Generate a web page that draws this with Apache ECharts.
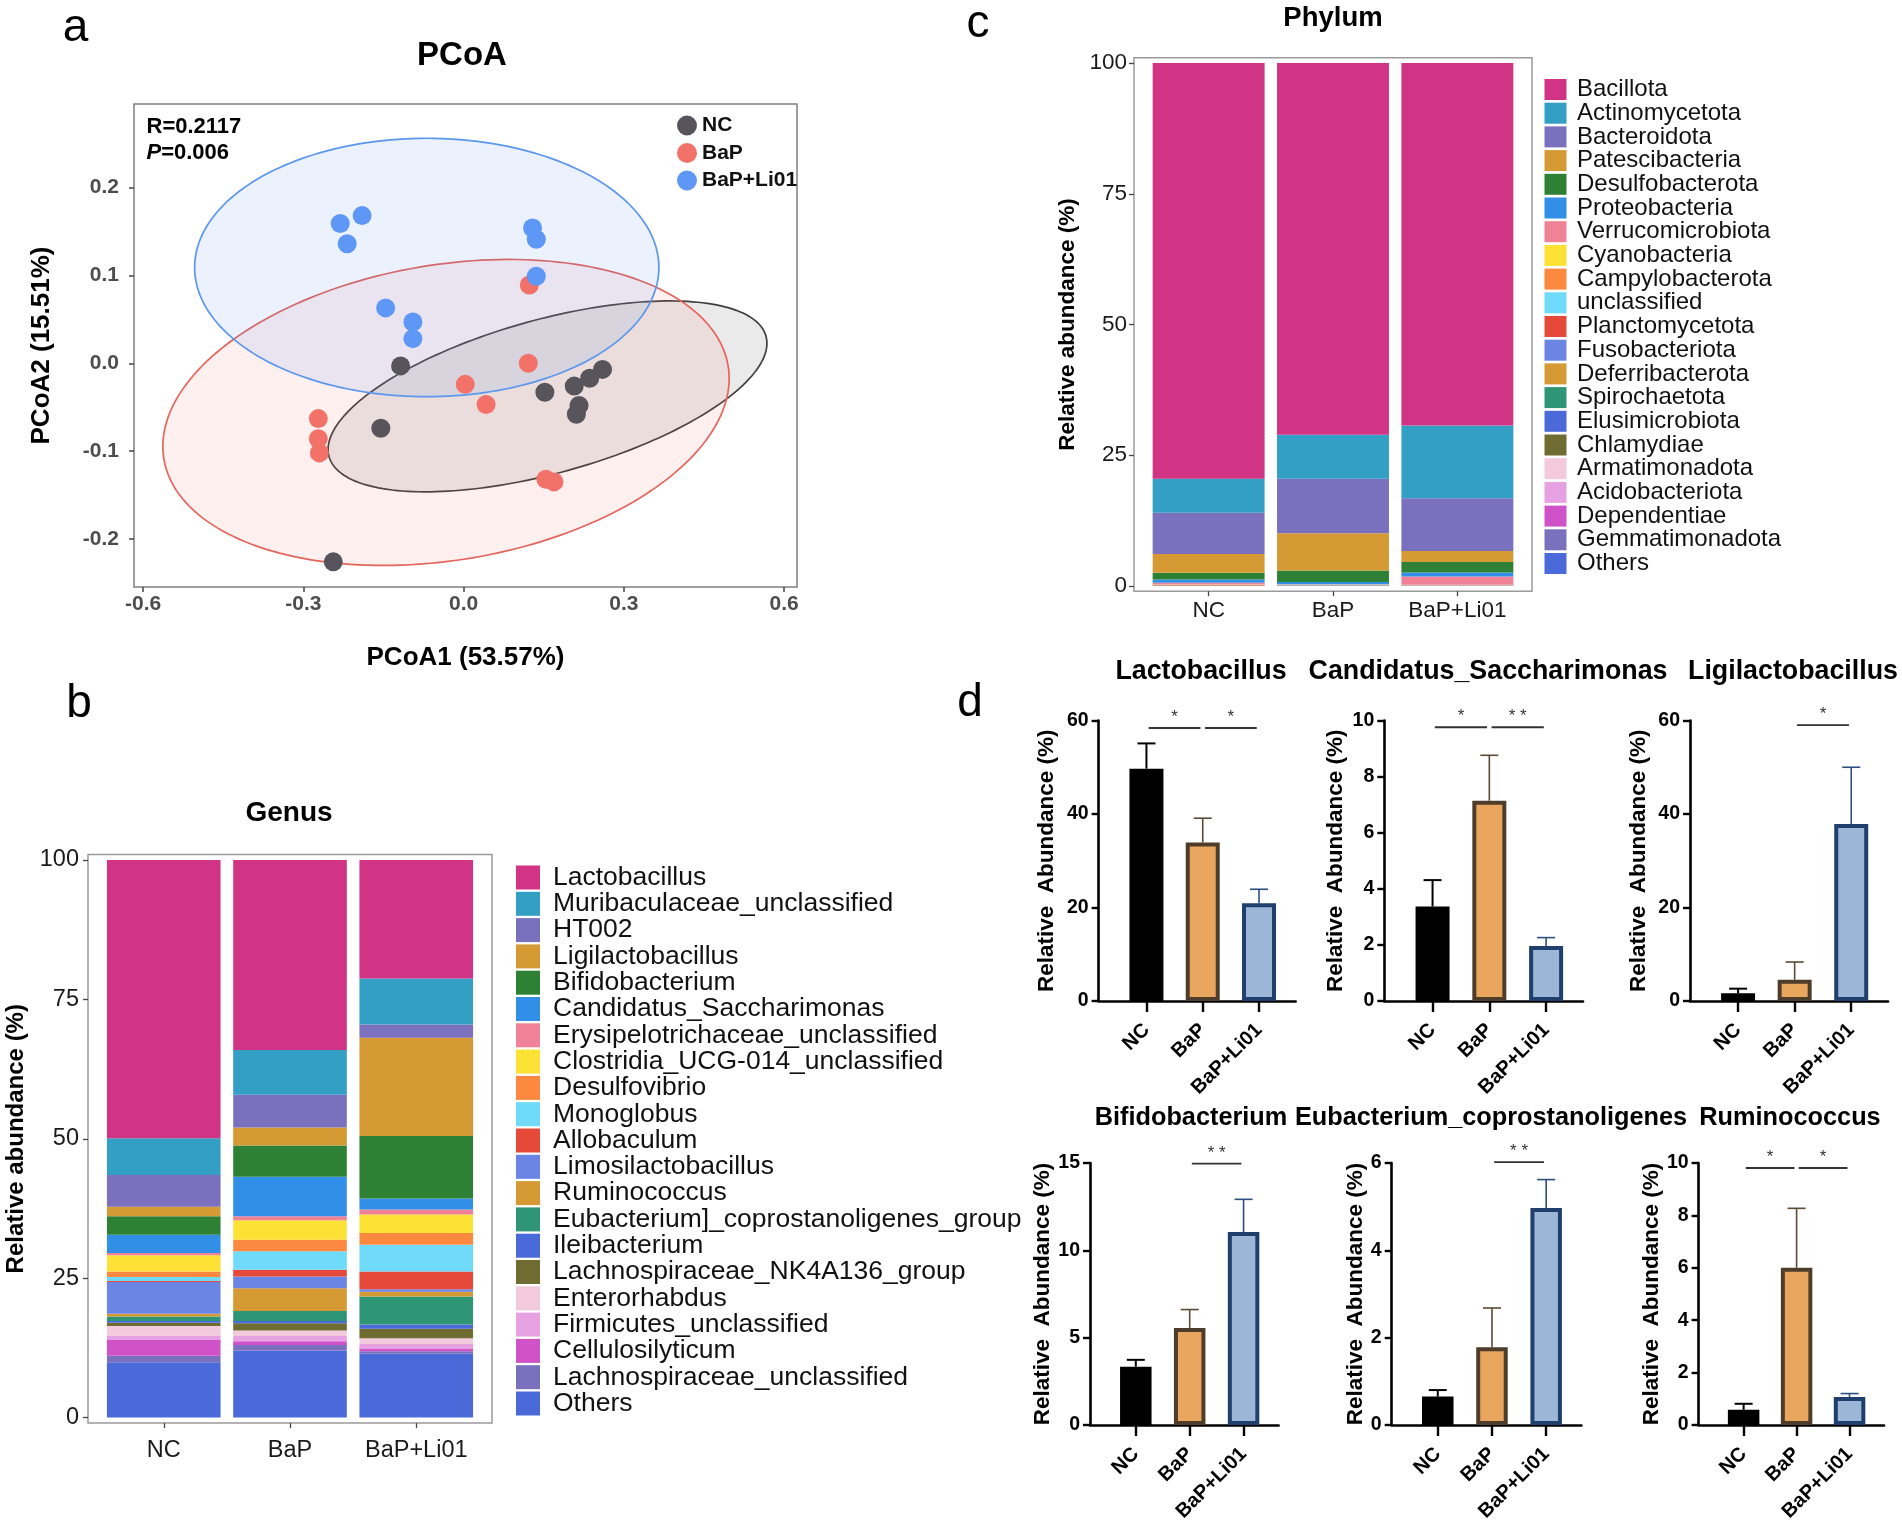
<!DOCTYPE html>
<html><head><meta charset="utf-8">
<script src="https://cdn.jsdelivr.net/npm/echarts@6/dist/echarts.min.js"></script>
<style>html,body{margin:0;padding:0;background:#fff}#c{width:1902px;height:1527px}</style>
</head><body><div id="c"></div>
<script>
// ---------------- DATA ----------------
const groups = ['NC', 'BaP', 'BaP+Li01'];

// Panel a: PCoA sample scores [PCoA1, PCoA2]
const pcoaNC = [[-0.118,-0.003],[-0.155,-0.074],[0.152,-0.033],[0.207,-0.026],[0.236,-0.017],[0.260,-0.007],[0.216,-0.048],[0.211,-0.058],[-0.244,-0.226]];
const pcoaBaP = [[0.123,0.089],[0.121,0.000],[0.003,-0.024],[0.042,-0.047],[-0.272,-0.063],[-0.272,-0.086],[-0.270,-0.102],[0.154,-0.132],[0.169,-0.135]];
const pcoaLi01 = [[-0.231,0.159],[-0.190,0.168],[-0.218,0.136],[0.129,0.154],[0.136,0.141],[0.136,0.099],[-0.146,0.063],[-0.095,0.047],[-0.095,0.028]];
// confidence ellipses: [centerX, centerY, spreadX, spreadY, correlation]
const ellipseNC = [0.157, -0.0377, 0.4107, 0.1086, 0.556];
const ellipseBaP = [-0.033, -0.056, 0.530, 0.1741, 0.222];
const ellipseLi01 = [-0.069, 0.109, 0.4345, 0.147, 0];
const pcoaXTicks = [-0.6, -0.3, 0, 0.3, 0.6];
const pcoaYTicks = [-0.2, -0.1, 0, 0.1, 0.2];
const pcoaStats = ['R=0.2117', 'P=0.006'];

// Panel c: phylum relative abundance (%)
const phylumNames = ['Bacillota','Actinomycetota','Bacteroidota','Patescibacteria','Desulfobacterota','Proteobacteria','Verrucomicrobiota','Cyanobacteria','Campylobacterota','unclassified','Planctomycetota','Fusobacteriota','Deferribacterota','Spirochaetota','Elusimicrobiota','Chlamydiae','Armatimonadota','Acidobacteriota','Dependentiae','Gemmatimonadota','Others'];
const phylumNC   = [79.48, 6.5, 7.9, 3.6, 1.3, 0.6, 0.35, 0.04, 0.03, 0.03, 0.02, 0.02, 0.02, 0.02, 0.02, 0.01, 0.02, 0.01, 0.01, 0.01, 0.01];
const phylumBaP  = [71.1, 8.4, 10.45, 7.1, 2.2, 0.45, 0.05, 0.03, 0.03, 0.03, 0.02, 0.02, 0.02, 0.02, 0.02, 0.01, 0.02, 0.01, 0.01, 0.01, 0.02];
const phylumLi01 = [69.3, 13.9, 10.1, 2.1, 2.0, 0.8, 1.5, 0.03, 0.02, 0.03, 0.02, 0.02, 0.02, 0.02, 0.02, 0.01, 0.05, 0.01, 0.01, 0.01, 0.02];
const abundTicks = [0, 25, 50, 75, 100];

// Panel b: genus relative abundance (%)
const genusNames = ['Lactobacillus','Muribaculaceae_unclassified','HT002','Ligilactobacillus','Bifidobacterium','Candidatus_Saccharimonas','Erysipelotrichaceae_unclassified','Clostridia_UCG-014_unclassified','Desulfovibrio','Monoglobus','Allobaculum','Limosilactobacillus','Ruminococcus','Eubacterium]_coprostanoligenes_group','Ileibacterium','Lachnospiraceae_NK4A136_group','Enterorhabdus','Firmicutes_unclassified','Cellulosilyticum','Lachnospiraceae_unclassified','Others'];
const genusNC   = [49.9, 6.6, 5.7, 1.7, 3.3, 3.3, 0.4, 2.9, 1.0, 0.7, 0.2, 5.7, 0.5, 0.8, 0.3, 0.6, 1.7, 0.7, 2.9, 1.2, 9.9];
const genusBaP  = [34.1, 8.0, 5.9, 3.2, 5.6, 7.1, 0.7, 3.5, 2.1, 3.3, 1.2, 2.1, 4.1, 1.8, 0.4, 1.3, 1.0, 0.9, 0.7, 1.0, 12.0];
const genusLi01 = [21.25, 8.25, 2.4, 17.6, 11.2, 2.0, 0.9, 3.3, 2.1, 4.8, 3.2, 0.45, 0.85, 5.0, 0.8, 1.7, 1.0, 0.9, 0.4, 0.45, 11.45];

// Panel d: mean and SEM (%) per group
const dTitles = ['Lactobacillus','Candidatus_Saccharimonas','Ligilactobacillus','Bifidobacterium','Eubacterium_coprostanoligenes','Ruminococcus'];
const dMeans  = [[49.7, 33.9, 20.9],[3.37, 7.14, 1.96],[1.64, 4.56, 37.85],[3.34, 5.56, 11.05],[0.65, 1.78, 4.97],[0.58, 6.0, 1.07]];
const dErrors = [[5.4, 5.2, 3.0],[0.94, 1.62, 0.30],[1.0, 3.78, 12.15],[0.39, 1.05, 1.87],[0.15, 0.90, 0.65],[0.23, 2.27, 0.13]];
const dAxisMax  = [60, 10, 60, 15, 6, 10];
const dAxisStep = [20, 2, 20, 5, 2, 2];
// significance: [from group, to group, label, bracket height]
const dSig = [
  [[0, 1, '*', 58.4], [1, 2, '*', 58.4]],
  [[0, 1, '*', 9.76], [1, 2, '**', 9.76]],
  [[1, 2, '*', 59.0]],
  [[1, 2, '**', 14.96]],
  [[1, 2, '**', 6.02]],
  [[0, 1, '*', 9.81], [1, 2, '*', 9.81]]
];

// ---------------- STYLE ----------------
const FONT = '"Liberation Sans", Arial, Helvetica, sans-serif';
const taxaColors = ['#D13385','#339FC4','#7B70BE','#D69A35','#2E8134','#318FE8','#F08297','#FDE134','#FD8940','#6FDAF9','#E5493A','#6A85E4','#D69A35','#2E9674','#4B6ADA','#6F6C32','#F2CADB','#E6A1E2','#D052C8','#7B70BE','#4B6ADA'];
const barFill = ['#000000', '#E9A65E', '#9CB6D8'];
const barBorder = ['#000000', '#4E3D2A', '#1F3F6D'];
const errColor = ['#000000', '#5C4A36', '#2B4F7E'];

const grids = [], xAxes = [], yAxes = [], series = [], legends = [], graphics = [];

// ---------------- Panel a ----------------
grids.push({left: 134, top: 104, width: 663, height: 483, show: true, borderColor: '#7F7F7F', borderWidth: 1.5, backgroundColor: 'transparent'});
const pcoaTickLabel = {fontFamily: FONT, fontSize: 21, fontWeight: 'bold', color: '#4D4D4D'};
xAxes.push({type: 'value', gridIndex: 0, min: -0.617, max: 0.624,
  name: 'PCoA1 (53.57%)', nameLocation: 'middle', nameGap: 58,
  nameTextStyle: {fontFamily: FONT, fontSize: 26, fontWeight: 'bold', color: '#000'},
  axisLine: {show: false, onZero: false}, splitLine: {show: false},
  axisTick: {show: true, customValues: pcoaXTicks, length: 5, lineStyle: {color: '#444', width: 1.5}},
  axisLabel: Object.assign({customValues: pcoaXTicks, formatter: v => Number(v).toFixed(1), margin: 7}, pcoaTickLabel)});
yAxes.push({type: 'value', gridIndex: 0, min: -0.2546, max: 0.295,
  name: 'PCoA2 (15.51%)', nameLocation: 'middle', nameGap: 79,
  nameTextStyle: {fontFamily: FONT, fontSize: 26, fontWeight: 'bold', color: '#000'},
  axisLine: {show: false, onZero: false}, splitLine: {show: false},
  axisTick: {show: true, customValues: pcoaYTicks, length: 5, lineStyle: {color: '#444', width: 1.5}},
  axisLabel: Object.assign({customValues: pcoaYTicks, formatter: v => Number(v).toFixed(1), margin: 15}, pcoaTickLabel)});

function ellipseSeries(params, stroke, fill, name) {
  return {
    type: 'custom', name: name, xAxisIndex: 0, yAxisIndex: 0, z: 1, silent: true,
    data: [params],
    renderItem: (p, api) => {
      const cx = api.value(0), cy = api.value(1), sx = api.value(2), sy = api.value(3), r = api.value(4);
      const pts = [];
      const q = Math.sqrt(1 - r * r);
      for (let k = 0; k <= 200; k++) {
        const t = 2 * Math.PI * k / 200;
        pts.push(api.coord([cx + sx * Math.cos(t), cy + sy * (r * Math.cos(t) + q * Math.sin(t))]));
      }
      return {type: 'polygon', shape: {points: pts}, style: {fill: fill, stroke: stroke, lineWidth: 1.7}};
    }
  };
}
series.push(ellipseSeries(ellipseNC, '#3F3F3F', 'rgba(90,90,90,0.13)', 'ellipse NC'));
series.push(ellipseSeries(ellipseBaP, '#E5645C', 'rgba(240,110,100,0.10)', 'ellipse BaP'));
series.push(ellipseSeries(ellipseLi01, '#5B97EC', 'rgba(90,150,240,0.12)', 'ellipse BaP+Li01'));
const pointColors = ['#58545C', '#F2726A', '#5E97F6'];
[pcoaNC, pcoaBaP, pcoaLi01].forEach((d, i) => {
  series.push({type: 'scatter', name: groups[i], xAxisIndex: 0, yAxisIndex: 0, data: d, symbolSize: 19, z: 5,
    itemStyle: {color: pointColors[i], opacity: 1}});
});
legends.push({data: groups, orient: 'vertical', left: 677, top: 115, padding: 0, icon: 'circle', itemWidth: 20, itemHeight: 20, itemGap: 6.5,
  selectedMode: false, textStyle: {fontFamily: FONT, fontSize: 21, fontWeight: 'bold', color: '#111'}});

// ---------------- Stacked panels (b, c) ----------------
// box: plot frame; bars sit on a category grid inset by 0.1 band on each side (0.6 band expansion)
function stackedPanel(box, names, g0, g1, g2, labelMargin, yMargin, nameGap, nameSize, tickSize) {
  const band = box.width / 3.2, inset = 0.1 * band;
  const fi = grids.length;
  grids.push({left: box.left, top: box.top, width: box.width, height: box.height, show: true, borderColor: '#9A9A9A', borderWidth: 1.5, backgroundColor: 'transparent'});
  xAxes.push({type: 'value', gridIndex: fi, show: false});
  yAxes.push({type: 'value', gridIndex: fi, show: false});
  const gi = grids.length;
  grids.push({left: box.left + inset, top: box.top, width: box.width - 2 * inset, height: box.height});
  xAxes.push({type: 'category', gridIndex: gi, data: groups, boundaryGap: true,
    axisLine: {show: false, onZero: false}, splitLine: {show: false},
    axisTick: {show: true, alignWithLabel: true, interval: 0, length: 5, lineStyle: {color: '#444', width: 1.3}},
    axisLabel: {interval: 0, fontFamily: FONT, fontSize: tickSize, color: '#1a1a1a', margin: labelMargin}});
  yAxes.push({type: 'value', gridIndex: gi, min: -1, max: 101, offset: inset,
    name: 'Relative abundance (%)', nameLocation: 'middle', nameGap: nameGap,
    nameTextStyle: {fontFamily: FONT, fontSize: nameSize, fontWeight: 'bold', color: '#000'},
    axisLine: {show: false, onZero: false}, splitLine: {show: false},
    axisTick: {show: true, customValues: abundTicks, length: 5, lineStyle: {color: '#444', width: 1.3}},
    axisLabel: {customValues: abundTicks, fontFamily: FONT, fontSize: tickSize, color: '#1a1a1a', margin: yMargin}});
  for (let k = names.length - 1; k >= 0; k--) {
    series.push({type: 'bar', name: names[k], xAxisIndex: gi, yAxisIndex: gi, stack: 'stack' + gi, barWidth: '90%',
      data: [g0[k], g1[k], g2[k]], itemStyle: {color: taxaColors[k]}});
  }
}
// Panel c (Phylum)
stackedPanel({left: 1134, top: 57.8, width: 398, height: 533.4}, phylumNames, phylumNC, phylumBaP, phylumLi01, 8, 7, 55, 22.5, 22.5);
legends.push({data: phylumNames, orient: 'vertical', left: 1544.5, top: 77.5, padding: 0, icon: 'rect', itemWidth: 22, itemHeight: 21, itemGap: -0.3,
  selectedMode: false, textStyle: {fontFamily: FONT, fontSize: 24, color: '#111', padding: [0, 0, 0, 5.5]}});
// Panel b (Genus)
stackedPanel({left: 88, top: 854.4, width: 404, height: 568.7}, genusNames, genusNC, genusBaP, genusLi01, 15, 9, 59.5, 24, 23.5);
legends.push({data: genusNames, orient: 'vertical', left: 516, top: 864, padding: 0, icon: 'rect', itemWidth: 24, itemHeight: 24, itemGap: -0.7,
  selectedMode: false, textStyle: {fontFamily: FONT, fontSize: 26.5, color: '#111', padding: [0, 0, 0, 8]}});

// ---------------- Panel d ----------------
const dGrid = [
  {left: 1098.6, top: 720.5, width: 197, height: 280.5, nameGap: 40, barW: 34},
  {left: 1384.3, top: 720.5, width: 198.7, height: 280.5, nameGap: 37, barW: 34},
  {left: 1690, top: 720.5, width: 198, height: 280.5, nameGap: 40, barW: 34},
  {left: 1090, top: 1163, width: 188.6, height: 262, nameGap: 31.5, barW: 31.5},
  {left: 1391.7, top: 1163, width: 189.7, height: 262, nameGap: 20.5, barW: 31.5},
  {left: 1698.6, top: 1163, width: 185.4, height: 262, nameGap: 34, barW: 31.5}
];
dTitles.forEach((t, k) => {
  const gi = grids.length, L = dGrid[k];
  grids.push({left: L.left, top: L.top, width: L.width, height: L.height});
  xAxes.push({type: 'value', gridIndex: gi, min: -0.85, max: 2.65,
    axisLine: {show: true, onZero: false, lineStyle: {color: '#000', width: 2.6}}, splitLine: {show: false},
    axisTick: {show: true, customValues: [0, 1, 2], length: 11, lineStyle: {color: '#000', width: 2.4}},
    axisLabel: {customValues: [0, 1, 2], formatter: v => groups[Math.round(v)], rotate: 45, margin: 26,
      fontFamily: FONT, fontSize: 20, fontWeight: 'bold', color: '#000'}});
  yAxes.push({type: 'value', gridIndex: gi, min: 0, max: dAxisMax[k], interval: dAxisStep[k],
    name: 'Relative  Abundance (%)', nameLocation: 'middle', nameGap: L.nameGap,
    nameTextStyle: {fontFamily: FONT, fontSize: 22.5, fontWeight: 'bold', color: '#000'},
    axisLine: {show: true, onZero: false, lineStyle: {color: '#000', width: 2.6}}, splitLine: {show: false},
    axisTick: {show: true, length: 7, lineStyle: {color: '#000', width: 2.4}},
    axisLabel: {fontFamily: FONT, fontSize: 19.5, fontWeight: 'bold', color: '#000', margin: 10}});
  // error bars (upper)
  series.push({type: 'custom', name: 'err' + k, xAxisIndex: gi, yAxisIndex: gi, z: 1, silent: true,
    data: dMeans[k].map((m, i) => [i, m, m + dErrors[k][i]]),
    renderItem: (p, api) => {
      const i = p.dataIndex;
      const lo = api.coord([api.value(0), api.value(1)]);
      const hi = api.coord([api.value(0), api.value(2)]);
      const c = errColor[i], w = i === 0 ? 2 : 1.6;
      return {type: 'group', children: [
        {type: 'line', shape: {x1: lo[0], y1: lo[1], x2: hi[0], y2: hi[1]}, style: {stroke: c, lineWidth: w}},
        {type: 'line', shape: {x1: hi[0] - 9, y1: hi[1], x2: hi[0] + 9, y2: hi[1]}, style: {stroke: c, lineWidth: w}}
      ]};
    }});
  // bars
  series.push({type: 'bar', name: 'bar' + k, xAxisIndex: gi, yAxisIndex: gi, barWidth: L.barW, z: 2,
    data: dMeans[k].map((m, i) => ({value: [i, m], itemStyle: {color: barFill[i], borderColor: barBorder[i], borderWidth: 4}}))});
  // significance brackets
  series.push({type: 'custom', name: 'sig' + k, xAxisIndex: gi, yAxisIndex: gi, z: 3, silent: true, clip: false,
    data: dSig[k].map(s => [s[0], s[1], s[3]]),
    renderItem: (p, api) => {
      const a = api.coord([api.value(0) + 0.04, api.value(2)]);
      const b = api.coord([api.value(1) - 0.04, api.value(2)]);
      const lab = dSig[k][p.dataIndex][2].split('').join(' ');
      return {type: 'group', children: [
        {type: 'line', shape: {x1: a[0], y1: a[1], x2: b[0], y2: b[1]}, style: {stroke: '#333', lineWidth: 1.8}},
        {type: 'text', x: (a[0] + b[0]) / 2, y: a[1] - 2, style: {text: lab, fill: '#333', fontSize: 17, fontFamily: FONT, align: 'center', verticalAlign: 'bottom'}}
      ]};
    }});
});

// ---------------- Titles & labels ----------------
function txt(x, y, text, size, weight, align, extra) {
  graphics.push({type: 'text', x: x, y: y, silent: true,
    style: Object.assign({text: text, fontSize: size, fontWeight: weight || 'normal', fontFamily: FONT, fill: '#000', align: align || 'center', verticalAlign: 'middle'}, extra || {})});
}
txt(75.5, 28.5, 'a', 46);
txt(79, 704, 'b', 46);
txt(978, 24.5, 'c', 46);
txt(970, 703, 'd', 46);
txt(462, 56, 'PCoA', 33, 'bold');
txt(1333, 18, 'Phylum', 27.5, 'bold');
txt(289, 813, 'Genus', 28, 'bold');
txt(146.5, 127, pcoaStats[0], 22, 'bold', 'left');
txt(146.5, 153, '{i|P}' + pcoaStats[1].slice(1), 22, 'bold', 'left', {rich: {i: {fontStyle: 'italic', fontWeight: 'bold', fontSize: 22, fontFamily: FONT}}});
const dTitlePos = [[1201, 672], [1488, 672], [1793, 672], [1191, 1118], [1491, 1118], [1790, 1118]];
const dTitleSize = [26.8, 26.8, 26.8, 25.3, 25.3, 25.3];
dTitles.forEach((t, k) => txt(dTitlePos[k][0], dTitlePos[k][1], t, dTitleSize[k], 'bold'));

const chart = echarts.init(document.getElementById('c'), null, {renderer: 'canvas', width: 1902, height: 1527});
chart.setOption({
  animation: false,
  backgroundColor: '#fff',
  textStyle: {fontFamily: FONT},
  grid: grids, xAxis: xAxes, yAxis: yAxes, legend: legends, series: series, graphic: graphics
});
</script></body></html>
